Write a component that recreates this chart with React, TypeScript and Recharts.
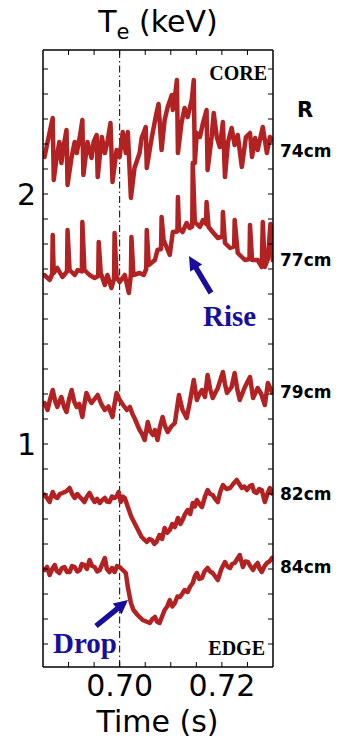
import React from 'react';
import { LineChart, Line, XAxis, YAxis, ReferenceLine } from 'recharts';

// [time (s), Te (keV)] per major radius
const r74: [number, number][] = [
  [0.6850, 2.16], [0.6853, 2.148], [0.6859, 2.208], [0.6869, 2.304], [0.6871, 2.056], [0.6876, 2.136],
  [0.6882, 2.208], [0.6886, 2.124], [0.6890, 2.188], [0.6896, 2.256], [0.6898, 2.036], [0.6906, 2.148],
  [0.6912, 2.208], [0.6916, 2.164], [0.6922, 2.228], [0.6927, 2.296], [0.6929, 2.076], [0.6937, 2.208],
  [0.6945, 2.144], [0.6949, 2.208], [0.6955, 2.236], [0.6957, 2.068], [0.6965, 2.228], [0.6971, 2.164],
  [0.6976, 2.208], [0.6982, 2.284], [0.6986, 2.048], [0.6994, 2.176], [0.7000, 2.148], [0.7006, 2.248],
  [0.7012, 2.164], [0.7016, 2.248], [0.7022, 1.984], [0.7029, 2.104], [0.7039, 2.164], [0.7043, 2.224],
  [0.7051, 2.268], [0.7053, 2.104], [0.7063, 2.228], [0.7072, 2.324], [0.7076, 2.36], [0.7082, 2.176],
  [0.7088, 2.296], [0.7094, 2.348], [0.7102, 2.396], [0.7104, 2.336], [0.7108, 2.388], [0.7112, 2.456],
  [0.7114, 2.164], [0.7121, 2.284], [0.7127, 2.344], [0.7133, 2.308], [0.7141, 2.376], [0.7145, 2.456],
  [0.7147, 2.124], [0.7151, 2.244], [0.7157, 2.228], [0.7163, 2.284], [0.7170, 2.336], [0.7172, 2.096],
  [0.7180, 2.228], [0.7184, 2.324], [0.7190, 2.228], [0.7196, 2.188], [0.7202, 2.288], [0.7206, 2.068],
  [0.7212, 2.208], [0.7219, 2.264], [0.7225, 2.196], [0.7231, 2.236], [0.7239, 2.108], [0.7247, 2.228],
  [0.7255, 2.244], [0.7259, 2.148], [0.7265, 2.224], [0.7270, 2.176], [0.7280, 2.268], [0.7288, 2.164],
  [0.7294, 2.228], [0.7300, 2.208],
];

const r77: [number, number][] = [
  [0.6850, 1.672], [0.6853, 1.676], [0.6863, 1.656], [0.6868, 1.68], [0.6869, 1.836], [0.6871, 1.684],
  [0.6878, 1.704], [0.6888, 1.668], [0.6897, 1.69], [0.6898, 1.856], [0.6902, 1.696], [0.6912, 1.676],
  [0.6918, 1.696], [0.6926, 1.69], [0.6927, 1.888], [0.6931, 1.696], [0.6941, 1.676], [0.6951, 1.664],
  [0.6958, 1.672], [0.6959, 1.808], [0.6963, 1.684], [0.6971, 1.636], [0.6976, 1.676], [0.6984, 1.624],
  [0.6989, 1.66], [0.6990, 1.844], [0.6994, 1.668], [0.7000, 1.648], [0.7010, 1.676], [0.7018, 1.604],
  [0.7022, 1.68], [0.7023, 1.828], [0.7027, 1.676], [0.7039, 1.684], [0.7047, 1.676], [0.7052, 1.7],
  [0.7053, 1.856], [0.7057, 1.716], [0.7069, 1.736], [0.7074, 1.776], [0.7081, 1.78], [0.7082, 1.908],
  [0.7086, 1.816], [0.7098, 1.756], [0.7104, 1.848], [0.7113, 1.85], [0.7114, 1.988], [0.7116, 1.864],
  [0.7123, 1.848], [0.7131, 1.884], [0.7137, 1.864], [0.7142, 1.87], [0.7143, 2.124], [0.7147, 1.888],
  [0.7157, 1.868], [0.7163, 1.896], [0.7169, 1.88], [0.7170, 1.968], [0.7174, 1.868], [0.7182, 1.848],
  [0.7192, 1.824], [0.7201, 1.83], [0.7202, 1.928], [0.7206, 1.804], [0.7216, 1.784], [0.7224, 1.79],
  [0.7225, 1.896], [0.7231, 1.764], [0.7239, 1.748], [0.7245, 1.736], [0.7254, 1.74], [0.7255, 1.876],
  [0.7259, 1.736], [0.7270, 1.736], [0.7278, 1.708], [0.7280, 1.888], [0.7284, 1.708], [0.7290, 1.74],
  [0.7295, 1.88], [0.7300, 1.728],
];

const r79: [number, number][] = [
  [0.6850, 1.16], [0.6853, 1.164], [0.6859, 1.136], [0.6864, 1.18], [0.6869, 1.216], [0.6874, 1.17],
  [0.6878, 1.148], [0.6882, 1.17], [0.6886, 1.188], [0.6891, 1.15], [0.6896, 1.128], [0.6901, 1.18],
  [0.6906, 1.216], [0.6911, 1.17], [0.6916, 1.148], [0.6921, 1.16], [0.6927, 1.108], [0.6931, 1.16],
  [0.6935, 1.204], [0.6940, 1.18], [0.6945, 1.164], [0.6951, 1.18], [0.6957, 1.196], [0.6964, 1.16],
  [0.6971, 1.136], [0.6978, 1.15], [0.6986, 1.108], [0.6990, 1.16], [0.6994, 1.204], [0.6999, 1.18],
  [0.7004, 1.164], [0.7009, 1.15], [0.7014, 1.136], [0.7020, 1.148], [0.7025, 1.12], [0.7029, 1.104],
  [0.7034, 1.08], [0.7039, 1.056], [0.7044, 1.04], [0.7049, 1.016], [0.7055, 1.088], [0.7060, 1.05],
  [0.7065, 1.036], [0.7069, 1.056], [0.7074, 1.016], [0.7079, 1.07], [0.7084, 1.108], [0.7089, 1.07],
  [0.7094, 1.048], [0.7101, 1.07], [0.7108, 1.084], [0.7116, 1.196], [0.7123, 1.136], [0.7131, 1.104],
  [0.7137, 1.164], [0.7145, 1.256], [0.7151, 1.176], [0.7156, 1.2], [0.7161, 1.216], [0.7167, 1.188],
  [0.7172, 1.276], [0.7177, 1.22], [0.7182, 1.184], [0.7192, 1.224], [0.7202, 1.288], [0.7206, 1.24],
  [0.7210, 1.204], [0.7219, 1.228], [0.7225, 1.284], [0.7230, 1.22], [0.7235, 1.176], [0.7245, 1.228],
  [0.7255, 1.268], [0.7261, 1.184], [0.7270, 1.224], [0.7277, 1.2], [0.7284, 1.156], [0.7290, 1.244],
  [0.7298, 1.208], [0.7300, 1.2],
];

const r82: [number, number][] = [
  [0.6850, 0.8], [0.6853, 0.796], [0.6858, 0.784], [0.6863, 0.768], [0.6866, 0.79], [0.6869, 0.808],
  [0.6873, 0.79], [0.6878, 0.784], [0.6883, 0.8], [0.6888, 0.804], [0.6895, 0.81], [0.6902, 0.824],
  [0.6907, 0.8], [0.6912, 0.784], [0.6917, 0.8], [0.6922, 0.788], [0.6926, 0.78], [0.6931, 0.768],
  [0.6936, 0.79], [0.6941, 0.804], [0.6946, 0.784], [0.6951, 0.768], [0.6956, 0.78], [0.6961, 0.764],
  [0.6966, 0.776], [0.6971, 0.784], [0.6975, 0.77], [0.6980, 0.768], [0.6985, 0.79], [0.6990, 0.784],
  [0.6994, 0.79], [0.6998, 0.808], [0.7002, 0.768], [0.7006, 0.79], [0.7010, 0.784], [0.7016, 0.748],
  [0.7023, 0.708], [0.7033, 0.668], [0.7043, 0.628], [0.7053, 0.608], [0.7058, 0.62], [0.7063, 0.616],
  [0.7068, 0.6], [0.7072, 0.608], [0.7078, 0.636], [0.7083, 0.62], [0.7088, 0.664], [0.7093, 0.645],
  [0.7098, 0.656], [0.7103, 0.68], [0.7108, 0.668], [0.7114, 0.704], [0.7119, 0.68], [0.7123, 0.696],
  [0.7128, 0.72], [0.7133, 0.736], [0.7138, 0.72], [0.7143, 0.764], [0.7147, 0.75], [0.7151, 0.776],
  [0.7156, 0.76], [0.7161, 0.748], [0.7167, 0.79], [0.7172, 0.816], [0.7177, 0.8], [0.7182, 0.796],
  [0.7187, 0.78], [0.7192, 0.768], [0.7197, 0.81], [0.7202, 0.836], [0.7209, 0.82], [0.7216, 0.824],
  [0.7222, 0.84], [0.7229, 0.856], [0.7234, 0.84], [0.7239, 0.824], [0.7244, 0.83], [0.7249, 0.816],
  [0.7254, 0.83], [0.7259, 0.836], [0.7263, 0.81], [0.7268, 0.804], [0.7273, 0.82], [0.7278, 0.816],
  [0.7284, 0.768], [0.7289, 0.8], [0.7294, 0.824], [0.7300, 0.796],
];

const r84: [number, number][] = [
  [0.6850, 0.5], [0.6853, 0.496], [0.6858, 0.508], [0.6863, 0.476], [0.6868, 0.5], [0.6873, 0.516],
  [0.6877, 0.492], [0.6882, 0.484], [0.6887, 0.504], [0.6892, 0.508], [0.6897, 0.488], [0.6902, 0.488],
  [0.6907, 0.512], [0.6912, 0.508], [0.6917, 0.49], [0.6922, 0.496], [0.6926, 0.52], [0.6931, 0.516],
  [0.6936, 0.5], [0.6941, 0.536], [0.6946, 0.512], [0.6951, 0.508], [0.6956, 0.49], [0.6961, 0.496],
  [0.6966, 0.52], [0.6971, 0.544], [0.6975, 0.5], [0.6980, 0.488], [0.6985, 0.504], [0.6990, 0.488],
  [0.6995, 0.512], [0.7000, 0.508], [0.7006, 0.496], [0.7012, 0.484], [0.7016, 0.428], [0.7022, 0.364],
  [0.7027, 0.336], [0.7035, 0.316], [0.7045, 0.296], [0.7052, 0.29], [0.7059, 0.284], [0.7064, 0.3],
  [0.7069, 0.308], [0.7073, 0.29], [0.7078, 0.284], [0.7083, 0.31], [0.7088, 0.336], [0.7093, 0.35],
  [0.7098, 0.376], [0.7103, 0.35], [0.7108, 0.364], [0.7113, 0.39], [0.7118, 0.388], [0.7122, 0.4],
  [0.7127, 0.416], [0.7133, 0.408], [0.7138, 0.43], [0.7143, 0.444], [0.7147, 0.47], [0.7151, 0.484],
  [0.7156, 0.46], [0.7161, 0.464], [0.7166, 0.49], [0.7172, 0.504], [0.7177, 0.49], [0.7182, 0.484],
  [0.7187, 0.47], [0.7192, 0.456], [0.7199, 0.5], [0.7206, 0.528], [0.7211, 0.51], [0.7216, 0.504],
  [0.7220, 0.52], [0.7225, 0.524], [0.7230, 0.54], [0.7235, 0.556], [0.7241, 0.508], [0.7246, 0.53],
  [0.7251, 0.528], [0.7256, 0.51], [0.7261, 0.496], [0.7266, 0.515], [0.7270, 0.524], [0.7274, 0.5],
  [0.7278, 0.488], [0.7283, 0.51], [0.7288, 0.524], [0.7293, 0.53], [0.7298, 0.544], [0.7300, 0.54],
];

const timeTicks = [0.69, 0.695, 0.7, 0.705, 0.71, 0.715, 0.72, 0.725];
const timeLabels = [0.7, 0.72];
const teTicks = [0.2, 0.3, 0.4, 0.5, 0.6, 0.7, 0.8, 0.9, 1, 1.1, 1.2, 1.3, 1.4, 1.5, 1.6, 1.7, 1.8, 1.9, 2, 2.1, 2.2, 2.3, 2.4, 2.5];
const teLabels = [1, 2];
const radii = ['74cm', '77cm', '79cm', '82cm', '84cm'];
const radiusLabelY = [151, 260, 392, 494, 567];

const series = [r74, r77, r79, r82, r84];
const toRows = (pts: [number, number][]) => pts.map(([t, v]) => ({ t, v }));

const W = 346;
const H = 740;
const TRACE = '#b22222';
const NOTE = '#1a0d9e';
const SANS = 'DejaVu Sans, sans-serif';
const SERIF = 'Liberation Serif, Times New Roman, serif';

const near = (v: number, list: number[]) => list.some((x) => Math.abs(x - v) < 1e-6);
const fmtTime = (v: number) => (near(v, timeLabels) ? v.toFixed(2) : '');
const fmtTe = (v: number) => (near(v, teLabels) ? String(Math.round(v)) : '');

const Arrow = ({ x1, y1, x2, y2 }: { x1: number; y1: number; x2: number; y2: number }) => {
  const len = Math.hypot(x2 - x1, y2 - y1);
  const ux = (x2 - x1) / len;
  const uy = (y2 - y1) / len;
  const nx = -uy;
  const ny = ux;
  const head = 14;
  const half = 7;
  const shaft = 2.7;
  const bx = x2 - ux * head;
  const by = y2 - uy * head;
  const pts = [
    [x1 + nx * shaft, y1 + ny * shaft],
    [bx + nx * shaft, by + ny * shaft],
    [bx + nx * half, by + ny * half],
    [x2, y2],
    [bx - nx * half, by - ny * half],
    [bx - nx * shaft, by - ny * shaft],
    [x1 - nx * shaft, y1 - ny * shaft],
  ];
  return <polygon points={pts.map((p) => p.join(',')).join(' ')} fill={NOTE} />;
};

const axisLine = { stroke: '#000', strokeWidth: 1.5 };
const tickLine = { stroke: '#000', strokeWidth: 1 };

export default function App() {
  return (
    <div style={{ position: 'absolute', left: 0, top: 0, width: W, height: H, background: '#fff' }}>
      {/* axes are 1px thick so the margins place the plot box at x 43..273, y 50..667 */}
      <LineChart width={W} height={H} margin={{ top: 49, right: 72, bottom: 72, left: 42 }}>
        <XAxis
          xAxisId="b"
          type="number"
          dataKey="t"
          domain={[0.685, 0.73]}
          allowDataOverflow
          ticks={timeTicks}
          interval={0}
          height={1}
          tickSize={-5}
          tickMargin={13}
          tickFormatter={fmtTime}
          axisLine={axisLine}
          tickLine={tickLine}
          tick={{ fill: '#000', fontSize: 30, fontFamily: SANS }}
        />
        <XAxis
          xAxisId="top"
          orientation="top"
          type="number"
          dataKey="t"
          domain={[0.685, 0.73]}
          allowDataOverflow
          ticks={timeTicks}
          interval={0}
          height={1}
          tickSize={-5}
          tickFormatter={() => ''}
          axisLine={axisLine}
          tickLine={tickLine}
        />
        <YAxis
          yAxisId="l"
          type="number"
          domain={[0.108, 2.576]}
          allowDataOverflow
          ticks={teTicks}
          interval={0}
          width={1}
          tickSize={-5}
          tickMargin={12}
          tickFormatter={fmtTe}
          axisLine={axisLine}
          tickLine={tickLine}
          tick={{ fill: '#000', fontSize: 30, fontFamily: SANS }}
        />
        <YAxis
          yAxisId="r"
          orientation="right"
          type="number"
          domain={[0.108, 2.576]}
          allowDataOverflow
          ticks={teTicks}
          interval={0}
          width={1}
          tickSize={-5}
          tickFormatter={() => ''}
          axisLine={axisLine}
          tickLine={tickLine}
        />
        <ReferenceLine
          xAxisId="b"
          yAxisId="l"
          x={0.7}
          stroke="#000"
          strokeWidth={1}
          strokeDasharray="7 3 1.5 3"
        />
        {series.map((pts, i) => (
          <Line
            key={radii[i]}
            xAxisId="b"
            yAxisId="l"
            data={toRows(pts)}
            dataKey="v"
            type="linear"
            stroke={TRACE}
            strokeWidth={4.5}
            strokeLinejoin="round"
            dot={false}
            activeDot={false}
            isAnimationActive={false}
          />
        ))}
      </LineChart>

      <svg width={W} height={H} style={{ position: 'absolute', left: 0, top: 0, pointerEvents: 'none' }}>
        <text x={158} y={32} textAnchor="middle" fontSize={30} fontFamily={SANS} fill="#000">
          T<tspan fontSize={21} dy={7}>e</tspan>
          <tspan dy={-7}> (keV)</tspan>
        </text>
        <text x={157.5} y={732} textAnchor="middle" fontSize={30} fontFamily={SANS} fill="#000">
          Time (s)
        </text>
        <text x={305} y={110} textAnchor="middle" dominantBaseline="central" fontSize={21} fontWeight="bold" fontFamily={SANS} fill="#000">
          R
        </text>
        {radii.map((r, i) => (
          <text key={r} x={280} y={radiusLabelY[i]} dominantBaseline="central" fontSize={17} fontWeight="bold" fontFamily={SANS} fill="#000">
            {r}
          </text>
        ))}
        <text x={267} y={80} textAnchor="end" fontSize={20} fontWeight="bold" fontFamily={SERIF} fill="#000">
          CORE
        </text>
        <text x={265} y={655} textAnchor="end" fontSize={20} fontWeight="bold" fontFamily={SERIF} fill="#000">
          EDGE
        </text>
        <text x={203} y={326} fontSize={29} fontWeight="bold" fontFamily={SERIF} fill={NOTE}>
          Rise
        </text>
        <text x={53} y={653} fontSize={29} fontWeight="bold" fontFamily={SERIF} fill={NOTE}>
          Drop
        </text>
        <Arrow x1={211} y1={293} x2={189} y2={256} />
        <Arrow x1={96} y1={626} x2={128} y2={600} />
      </svg>
    </div>
  );
}
